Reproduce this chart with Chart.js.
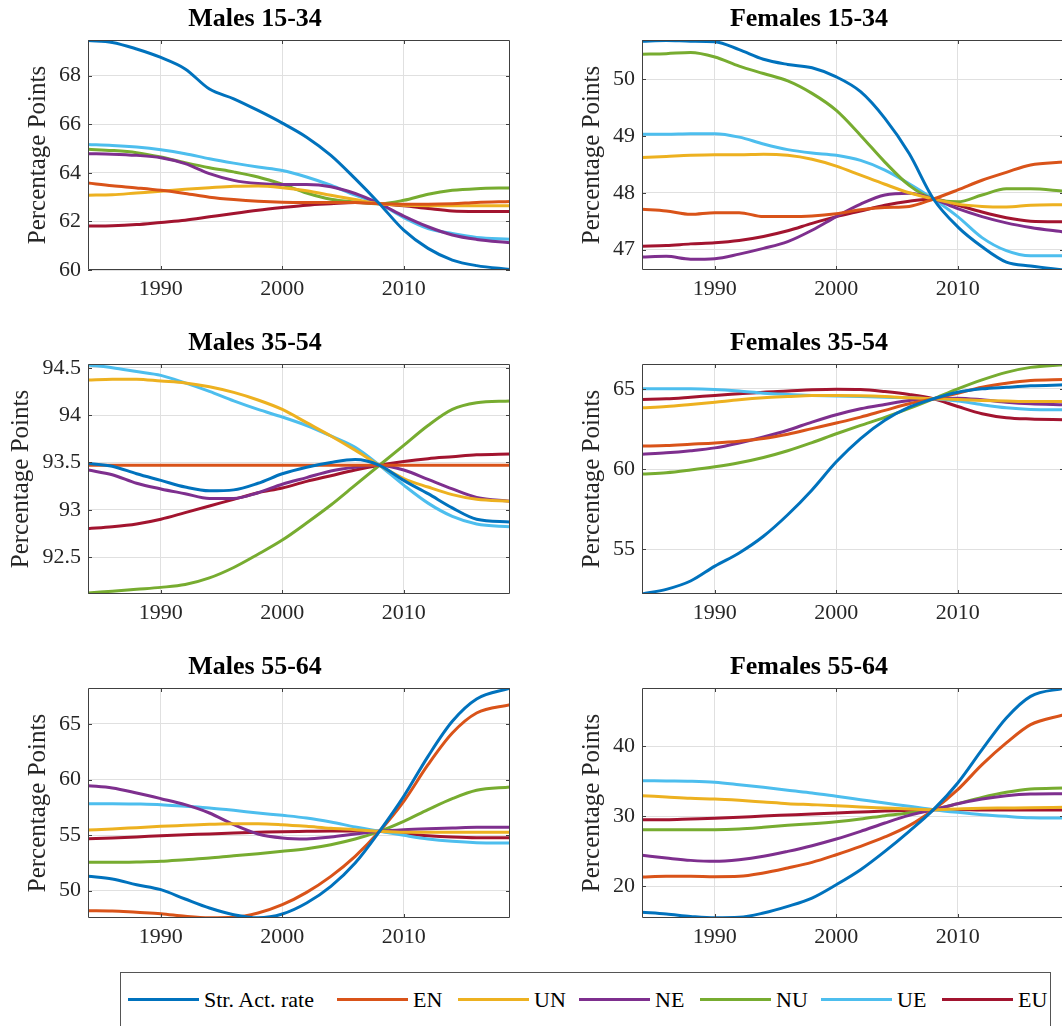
<!DOCTYPE html>
<html>
<head>
<meta charset="utf-8">
<title>Participation rates by group</title>
<script src="https://cdn.jsdelivr.net/npm/chart.js@4"></script>
<style>
  html, body { margin: 0; padding: 0; background: #fff; overflow: hidden; }
  body { width: 1062px; height: 1026px; position: relative; font-family: "Liberation Serif", "Times New Roman", serif; }
  canvas.panel { position: absolute; }
  #legend { position: absolute; left: 120px; top: 972px; width: 931px; height: 80px; border: 1px solid #555;
            box-sizing: border-box; display: flex; align-items: center; padding: 0 0 25px 7px; }
  #legend .item { display: flex; align-items: center; width: 121px; flex: none; }
  #legend .item:first-child { width: 209px; }
  #legend .swatch { width: 71px; height: 3px; margin-right: 5px; }
  #legend .lbl { font-size: 22px; color: #000; white-space: nowrap; }
</style>
</head>
<body>
<canvas class="panel" id="c0" width="530" height="310" style="left:0;top:0"></canvas>
<canvas class="panel" id="c1" width="530" height="310" style="left:554px;top:0"></canvas>
<canvas class="panel" id="c2" width="530" height="310" style="left:0;top:324px"></canvas>
<canvas class="panel" id="c3" width="530" height="310" style="left:554px;top:324px"></canvas>
<canvas class="panel" id="c4" width="530" height="310" style="left:0;top:648px"></canvas>
<canvas class="panel" id="c5" width="530" height="310" style="left:554px;top:648px"></canvas>
<div id="legend"></div>

<script>
const years = [1984, 1986, 1988, 1990, 1992, 1994, 1996, 1998, 2000, 2002, 2004, 2006, 2008, 2010, 2012, 2014, 2016, 2018.75];
const seriesNames = ['Str. Act. rate', 'EN', 'UN', 'NE', 'NU', 'UE', 'EU'];
const colors = ['#0072BD', '#D95319', '#EDB120', '#7E2F8E', '#77AC30', '#4DBEEE', '#A2142F'];
const xTicks = [1990, 2000, 2010];

// rows follow seriesNames order
const males1534 = [
  [69.45, 69.37, 69.1, 68.75, 68.28, 67.45, 67.05, 66.57, 66.05, 65.47, 64.72, 63.76, 62.73, 61.64, 60.89, 60.41, 60.18, 60.02],
  [63.58, 63.47, 63.38, 63.28, 63.15, 63.0, 62.9, 62.83, 62.79, 62.78, 62.78, 62.78, 62.73, 62.71, 62.71, 62.73, 62.78, 62.82],
  [63.08, 63.1, 63.17, 63.24, 63.32, 63.39, 63.45, 63.46, 63.39, 63.26, 63.08, 62.9, 62.73, 62.67, 62.65, 62.65, 62.65, 62.65],
  [64.79, 64.77, 64.72, 64.62, 64.38, 63.97, 63.69, 63.56, 63.52, 63.52, 63.43, 63.15, 62.73, 62.22, 61.78, 61.44, 61.26, 61.12],
  [64.97, 64.92, 64.83, 64.65, 64.42, 64.21, 64.04, 63.83, 63.53, 63.17, 62.91, 62.8, 62.73, 62.87, 63.12, 63.28, 63.35, 63.38],
  [65.17, 65.13, 65.06, 64.95, 64.79, 64.58, 64.4, 64.24, 64.1, 63.83, 63.49, 63.08, 62.73, 62.16, 61.71, 61.5, 61.34, 61.27],
  [61.81, 61.82, 61.87, 61.96, 62.05, 62.19, 62.33, 62.46, 62.57, 62.67, 62.73, 62.78, 62.73, 62.64, 62.53, 62.43, 62.41, 62.41]
];
const females1534 = [
  [50.67, 50.68, 50.67, 50.66, 50.52, 50.35, 50.26, 50.2, 50.04, 49.78, 49.31, 48.69, 47.89, 47.4, 47.05, 46.78, 46.71, 46.64],
  [47.71, 47.68, 47.62, 47.65, 47.65, 47.58, 47.58, 47.59, 47.63, 47.7, 47.74, 47.76, 47.89, 48.05, 48.22, 48.36, 48.49, 48.54],
  [48.62, 48.64, 48.66, 48.67, 48.67, 48.68, 48.66, 48.59, 48.47, 48.31, 48.15, 48.0, 47.89, 47.8, 47.76, 47.75, 47.78, 47.79],
  [46.87, 46.88, 46.83, 46.84, 46.92, 47.02, 47.14, 47.34, 47.58, 47.8, 47.96, 47.99, 47.89, 47.72, 47.58, 47.47, 47.39, 47.31],
  [50.44, 50.45, 50.47, 50.39, 50.23, 50.1, 49.97, 49.75, 49.45, 49.01, 48.54, 48.13, 47.89, 47.84, 47.96, 48.07, 48.07, 48.03],
  [49.03, 49.03, 49.04, 49.04, 48.98, 48.86, 48.76, 48.7, 48.66, 48.57, 48.4, 48.16, 47.89, 47.58, 47.21, 46.98, 46.89, 46.89],
  [47.06, 47.07, 47.1, 47.12, 47.16, 47.23, 47.33, 47.46, 47.58, 47.68, 47.78, 47.85, 47.89, 47.78, 47.66, 47.56, 47.5, 47.49]
];
const males3554 = [
  [93.49, 93.46, 93.38, 93.31, 93.24, 93.2, 93.21, 93.28, 93.38, 93.45, 93.5, 93.53, 93.47, 93.31, 93.17, 93.02, 92.9, 92.87],
  [93.47, 93.47, 93.47, 93.47, 93.47, 93.47, 93.47, 93.47, 93.47, 93.47, 93.47, 93.47, 93.47, 93.47, 93.47, 93.47, 93.47, 93.47],
  [94.37, 94.38, 94.38, 94.36, 94.34, 94.3, 94.24, 94.16, 94.06, 93.92, 93.78, 93.63, 93.47, 93.33, 93.24, 93.16, 93.11, 93.09],
  [93.42, 93.37, 93.28, 93.22, 93.17, 93.12, 93.12, 93.18, 93.27, 93.34, 93.41, 93.45, 93.47, 93.42, 93.32, 93.22, 93.13, 93.09],
  [92.12, 92.14, 92.16, 92.18, 92.21, 92.28, 92.39, 92.53, 92.68, 92.86, 93.05, 93.26, 93.47, 93.68, 93.89, 94.06, 94.13, 94.15],
  [94.53, 94.5, 94.46, 94.42, 94.34, 94.25, 94.15, 94.06, 93.98, 93.89, 93.78, 93.66, 93.47, 93.26, 93.07, 92.93, 92.85, 92.82],
  [92.8, 92.82, 92.85, 92.9, 92.97, 93.04, 93.11, 93.18, 93.23, 93.3, 93.36, 93.42, 93.47, 93.51, 93.54, 93.56, 93.58, 93.59]
];
const females3554 = [
  [52.21, 52.5, 53.02, 53.95, 54.77, 55.81, 57.15, 58.7, 60.45, 61.9, 63.04, 63.86, 64.38, 64.79, 65.0, 65.1, 65.19, 65.25],
  [61.43, 61.47, 61.55, 61.63, 61.74, 61.9, 62.17, 62.52, 62.87, 63.24, 63.66, 64.07, 64.38, 64.73, 65.1, 65.35, 65.52, 65.58],
  [63.82, 63.9, 64.03, 64.17, 64.32, 64.44, 64.52, 64.59, 64.59, 64.57, 64.52, 64.44, 64.38, 64.34, 64.28, 64.24, 64.21, 64.21],
  [60.93, 61.01, 61.14, 61.32, 61.63, 62.0, 62.42, 62.93, 63.39, 63.76, 64.03, 64.28, 64.38, 64.42, 64.32, 64.17, 64.07, 64.01],
  [59.69, 59.77, 59.94, 60.14, 60.39, 60.72, 61.14, 61.65, 62.2, 62.72, 63.22, 63.78, 64.38, 65.0, 65.56, 66.03, 66.34, 66.51],
  [65.0, 65.0, 65.0, 64.96, 64.86, 64.73, 64.65, 64.59, 64.55, 64.52, 64.48, 64.44, 64.38, 64.24, 64.01, 63.82, 63.72, 63.7],
  [64.34, 64.38, 64.48, 64.59, 64.69, 64.79, 64.86, 64.94, 64.98, 64.96, 64.83, 64.65, 64.38, 63.9, 63.45, 63.2, 63.12, 63.08]
];
const males5564 = [
  [51.29, 51.05, 50.54, 50.09, 49.25, 48.44, 47.84, 47.56, 47.9, 48.89, 50.39, 52.49, 55.34, 58.49, 62.09, 65.24, 67.25, 68.22],
  [48.2, 48.17, 48.05, 47.93, 47.69, 47.56, 47.6, 47.99, 48.74, 49.85, 51.29, 53.09, 55.34, 58.04, 61.34, 64.19, 65.99, 66.74],
  [55.46, 55.55, 55.67, 55.79, 55.88, 55.97, 56.03, 56.03, 55.94, 55.79, 55.61, 55.49, 55.34, 55.25, 55.25, 55.25, 55.25, 55.25],
  [59.45, 59.24, 58.79, 58.28, 57.74, 56.99, 55.94, 55.1, 54.74, 54.65, 54.83, 55.1, 55.34, 55.49, 55.58, 55.64, 55.7, 55.7],
  [52.55, 52.55, 52.58, 52.64, 52.79, 52.94, 53.15, 53.33, 53.54, 53.78, 54.14, 54.65, 55.34, 56.24, 57.29, 58.28, 59.03, 59.33],
  [57.83, 57.83, 57.8, 57.74, 57.59, 57.44, 57.23, 56.99, 56.78, 56.54, 56.18, 55.73, 55.34, 54.98, 54.65, 54.44, 54.32, 54.29],
  [54.68, 54.74, 54.83, 54.95, 55.04, 55.1, 55.19, 55.25, 55.31, 55.34, 55.37, 55.37, 55.34, 55.13, 54.95, 54.83, 54.77, 54.77]
];
const females5564 = [
  [16.29, 16.05, 15.71, 15.5, 15.57, 16.19, 17.14, 18.33, 20.24, 22.38, 25.0, 27.86, 30.95, 34.76, 39.52, 44.05, 47.14, 48.3],
  [21.33, 21.43, 21.43, 21.38, 21.43, 21.9, 22.62, 23.43, 24.52, 25.71, 27.05, 28.67, 30.95, 33.81, 37.38, 40.48, 43.1, 44.52],
  [32.95, 32.76, 32.57, 32.48, 32.29, 32.05, 31.81, 31.67, 31.52, 31.33, 31.19, 31.05, 30.95, 31.05, 31.14, 31.19, 31.24, 31.29],
  [24.43, 24.05, 23.71, 23.57, 23.81, 24.29, 25.0, 25.81, 26.76, 27.86, 29.05, 30.14, 30.95, 31.81, 32.48, 32.95, 33.19, 33.24],
  [28.1, 28.1, 28.1, 28.1, 28.19, 28.43, 28.71, 28.95, 29.24, 29.62, 30.1, 30.48, 30.95, 31.81, 32.71, 33.43, 33.9, 34.05],
  [35.1, 35.05, 35.0, 34.86, 34.52, 34.14, 33.71, 33.33, 32.86, 32.38, 31.9, 31.43, 30.95, 30.57, 30.24, 30.0, 29.81, 29.76],
  [29.52, 29.52, 29.62, 29.71, 29.86, 30.05, 30.19, 30.33, 30.48, 30.62, 30.76, 30.86, 30.95, 30.95, 30.9, 30.9, 30.9, 30.9]
];

// y tick labels and axis limits per panel
const ticksM1534 = [60, 62, 64, 66, 68];
const ticksF1534 = [47, 48, 49, 50];
const ticksM3554 = [92.5, 93, 93.5, 94, 94.5];
const ticksF3554 = [55, 60, 65];
const ticksM5564 = [50, 55, 60, 65];
const ticksF5564 = [20, 30, 40];

// labelPad: gap left of the y title (wider tick labels push it outwards)
const panels = [
  { id: 'c0', title: 'Males 15-34',   rows: males1534,   ticks: ticksM1534, min: 60,    max: 69.47, labelPad: 23 },
  { id: 'c1', title: 'Females 15-34', rows: females1534, ticks: ticksF1534, min: 46.64, max: 50.69, labelPad: 23 },
  { id: 'c2', title: 'Males 35-54',   rows: males3554,   ticks: ticksM3554, min: 92.11, max: 94.54, labelPad: 6 },
  { id: 'c3', title: 'Females 35-54', rows: females3554, ticks: ticksF3554, min: 52.21, max: 66.55, labelPad: 23 },
  { id: 'c4', title: 'Males 55-64',   rows: males5564,   ticks: ticksM5564, min: 47.54, max: 68.24, labelPad: 23 },
  { id: 'c5', title: 'Females 55-64', rows: females5564, ticks: ticksF5564, min: 15.48, max: 48.33, labelPad: 23 }
];

const serif = "'Liberation Serif', 'Times New Roman', serif";
const axisColor = '#262626';

// matlab style box with inward tick marks
const boxPlugin = {
  id: 'box',
  afterDatasetsDraw(chart) {
    const { ctx, chartArea: a, scales: { x, y } } = chart;
    ctx.save();
    ctx.strokeStyle = '#404040';
    ctx.lineWidth = 1;
    ctx.beginPath();
    ctx.rect(Math.round(a.left) + 0.5, Math.round(a.top) + 0.5, Math.round(a.width) - 1, Math.round(a.height) - 1);
    x.ticks.forEach(t => {
      const px = Math.round(x.getPixelForValue(t.value)) + 0.5;
      ctx.moveTo(px, a.bottom); ctx.lineTo(px, a.bottom - 4);
      ctx.moveTo(px, a.top); ctx.lineTo(px, a.top + 4);
    });
    y.ticks.forEach(t => {
      const py = Math.round(y.getPixelForValue(t.value)) + 0.5;
      ctx.moveTo(a.left, py); ctx.lineTo(a.left + 4, py);
      ctx.moveTo(a.right, py); ctx.lineTo(a.right - 4, py);
    });
    ctx.stroke();
    ctx.restore();
  }
};

panels.forEach(p => {
  new Chart(document.getElementById(p.id), {
    type: 'line',
    data: {
      datasets: seriesNames.map((name, i) => ({
        label: name,
        data: years.map((yr, j) => ({ x: yr, y: p.rows[i][j] })),
        borderColor: colors[i],
        backgroundColor: colors[i],
        borderWidth: 3,
        pointRadius: 0,
        cubicInterpolationMode: 'monotone',
        fill: false
      }))
    },
    options: {
      responsive: false,
      animation: false,
      devicePixelRatio: 1,
      layout: { padding: { left: 0, right: 20, top: 0, bottom: 0 } },
      plugins: {
        legend: { display: false },
        tooltip: { enabled: false },
        title: {
          display: true,
          text: p.title,
          color: '#000',
          font: { family: serif, size: 26, weight: 'bold' },
          padding: { top: 4, bottom: 4.8 }
        }
      },
      scales: {
        x: {
          type: 'linear',
          min: 1984,
          max: 2018.75,
          afterBuildTicks: axis => { axis.ticks = xTicks.map(v => ({ value: v })); },
          afterFit: axis => { axis.height = 40; },
          grid: { color: '#e0e0e0', drawTicks: false },
          border: { display: false },
          ticks: { color: axisColor, font: { family: serif, size: 22 }, padding: 6, maxRotation: 0, callback: v => String(v) }
        },
        y: {
          min: p.min,
          max: p.max,
          afterBuildTicks: axis => { axis.ticks = p.ticks.map(v => ({ value: v })); },
          afterFit: axis => { axis.width = 88; },
          grid: { color: '#e0e0e0', drawTicks: false },
          border: { display: false },
          ticks: { color: axisColor, font: { family: serif, size: 22 }, padding: 7, callback: v => String(v) },
          title: {
            display: true,
            text: 'Percentage Points',
            color: axisColor,
            font: { family: serif, size: 25 },
            padding: { top: p.labelPad, bottom: 0 }
          }
        }
      }
    },
    plugins: [boxPlugin]
  });
});

// shared legend under the panels
const legend = document.getElementById('legend');
seriesNames.forEach((name, i) => {
  const item = document.createElement('div');
  item.className = 'item';
  const sw = document.createElement('span');
  sw.className = 'swatch';
  sw.style.background = colors[i];
  const lbl = document.createElement('span');
  lbl.className = 'lbl';
  lbl.textContent = name;
  item.appendChild(sw);
  item.appendChild(lbl);
  legend.appendChild(item);
});
</script>
</body>
</html>
